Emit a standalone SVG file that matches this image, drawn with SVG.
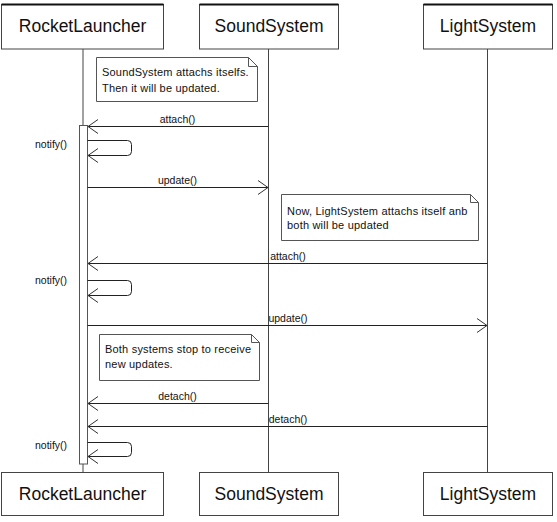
<svg xmlns="http://www.w3.org/2000/svg" width="557" height="522" viewBox="0 0 557 522">
<defs>
<style>
.box{fill:#fff;stroke:#444;stroke-width:1}
.top{stroke:#111;stroke-width:2}
.life{stroke:#444;stroke-width:1;fill:none}
.act{fill:#fff;stroke:#555;stroke-width:1}
.msg{stroke:#222;stroke-width:1;fill:none}
.note{fill:#fff;stroke:#555;stroke-width:1}
.title{font-family:"Liberation Sans",Arial,sans-serif;font-size:17.5px;fill:#111;text-anchor:middle}
.lbl{font-family:"Liberation Sans",Arial,sans-serif;font-size:10.5px;fill:#111}
.mid{text-anchor:middle}
.ntxt{font-family:"Liberation Sans",Arial,sans-serif;font-size:11px;fill:#111;letter-spacing:0.2px}
</style>
<marker id="open" markerWidth="12" markerHeight="16" refX="10" refY="8" orient="auto" markerUnits="userSpaceOnUse">
<path d="M0,1 L10,8 L0,15" fill="none" stroke="#333" stroke-width="1"/>
</marker>
</defs>
<rect width="557" height="522" fill="#fff"/>
<g id="lifelines">
<line class="life" x1="83" y1="49" x2="83" y2="472"/>
<line class="life" x1="268.5" y1="49" x2="268.5" y2="472"/>
<line class="life" x1="487.5" y1="49" x2="487.5" y2="472"/>
</g>
<g id="RocketLauncher">
<rect class="box" x="1.5" y="4.5" width="162" height="44.5"/>
<line class="top" x1="1.5" y1="4.5" x2="163.5" y2="4.5"/>
<text class="title" x="82.5" y="32">RocketLauncher</text>
</g>
<g id="SoundSystem">
<rect class="box" x="199.5" y="4.5" width="139" height="44.5"/>
<line class="top" x1="199.5" y1="4.5" x2="338.5" y2="4.5"/>
<text class="title" x="269" y="32">SoundSystem</text>
</g>
<g id="LightSystem">
<rect class="box" x="423.5" y="4.5" width="129" height="44.5"/>
<line class="top" x1="423.5" y1="4.5" x2="552.5" y2="4.5"/>
<text class="title" x="488" y="32">LightSystem</text>
</g>
<g id="RocketLauncherBottom">
<rect class="box" x="1.5" y="472.5" width="162" height="43"/>
<text class="title" x="82.5" y="500">RocketLauncher</text>
</g>
<g id="SoundSystemBottom">
<rect class="box" x="199.5" y="472.5" width="139" height="43"/>
<text class="title" x="269" y="500">SoundSystem</text>
</g>
<g id="LightSystemBottom">
<rect class="box" x="423.5" y="472.5" width="129" height="43"/>
<text class="title" x="488" y="500">LightSystem</text>
</g>
<g id="activation">
<rect class="act" x="79.5" y="125.5" width="8" height="338.5"/>
</g>
<g id="note1">
<path class="note" d="M96.5,57.5 H248.5 L257.5,66.5 V101.5 H96.5 Z M248.5,57.5 V66.5 H257.5"/>
<text class="ntxt" x="102" y="76">SoundSystem attachs itselfs.</text>
<text class="ntxt" x="102" y="92">Then it will be updated.</text>
</g>
<g id="note2">
<path class="note" d="M281.5,194.5 H470.5 L478.5,202.5 V240.5 H281.5 Z M470.5,194.5 V202.5 H478.5"/>
<text class="ntxt" x="287" y="215">Now, LightSystem attachs itself anb</text>
<text class="ntxt" x="287" y="229">both will be updated</text>
</g>
<g id="note3">
<path class="note" d="M99.5,334.5 H251.5 L259.5,342.5 V380.5 H99.5 Z M251.5,334.5 V342.5 H259.5"/>
<text class="ntxt" x="105" y="353">Both systems stop to receive</text>
<text class="ntxt" x="105" y="368">new updates.</text>
</g>
<g id="connectors">
<line class="msg" x1="268.5" y1="126.5" x2="88" y2="126.5" marker-end="url(#open)"/>
<text class="lbl mid" x="177.5" y="123">attach()</text>
<path class="msg" d="M87.5,140.5 H127.5 Q131.5,140.5 131.5,144.5 V151.5 Q131.5,155.5 127.5,155.5 H88" marker-end="url(#open)"/>
<text class="lbl" x="35" y="148">notify()</text>
<line class="msg" x1="87.5" y1="187.5" x2="268" y2="187.5" marker-end="url(#open)"/>
<text class="lbl mid" x="177.5" y="184">update()</text>
<line class="msg" x1="487.5" y1="263.5" x2="88" y2="263.5" marker-end="url(#open)"/>
<text class="lbl mid" x="288" y="260">attach()</text>
<path class="msg" d="M87.5,280.5 H127.5 Q131.5,280.5 131.5,284.5 V291.5 Q131.5,295.5 127.5,295.5 H88" marker-end="url(#open)"/>
<text class="lbl" x="35" y="284">notify()</text>
<line class="msg" x1="87.5" y1="325.5" x2="487" y2="325.5" marker-end="url(#open)"/>
<text class="lbl mid" x="288" y="322">update()</text>
<line class="msg" x1="268.5" y1="403.5" x2="88" y2="403.5" marker-end="url(#open)"/>
<text class="lbl mid" x="177.5" y="400">detach()</text>
<line class="msg" x1="487.5" y1="426.5" x2="88" y2="426.5" marker-end="url(#open)"/>
<text class="lbl mid" x="288" y="423">detach()</text>
<path class="msg" d="M87.5,442.5 H127.5 Q131.5,442.5 131.5,446.5 V452.5 Q131.5,456.5 127.5,456.5 H88" marker-end="url(#open)"/>
<text class="lbl" x="35" y="449">notify()</text>
</g>
</svg>
